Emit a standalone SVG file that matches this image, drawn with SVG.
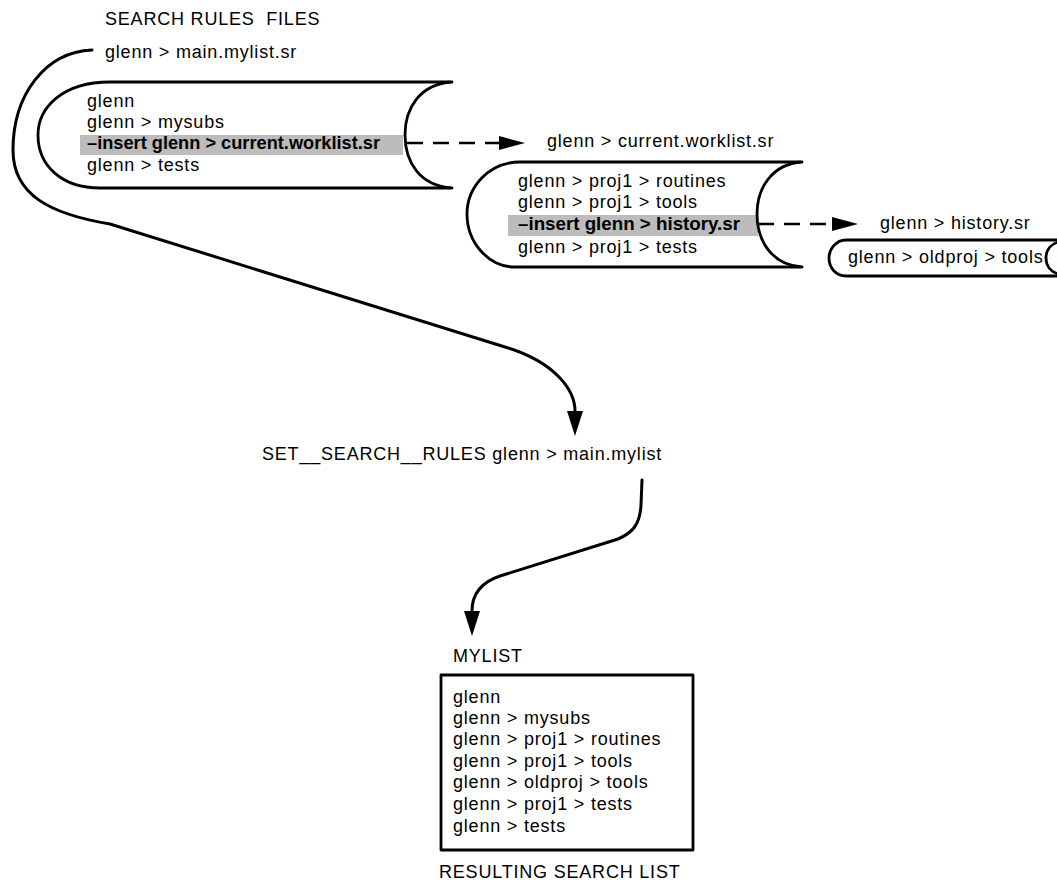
<svg xmlns="http://www.w3.org/2000/svg" width="1057" height="883" viewBox="0 0 1057 883">
<style>
text{font-family:"Liberation Sans",Arial,sans-serif;font-size:18px;letter-spacing:0.8px;fill:#000;white-space:pre}
.b{font-weight:bold;letter-spacing:0px}
.shape{fill:none;stroke:#000;stroke-width:2.8;stroke-linejoin:round;stroke-linecap:round}
.hl{fill:#bcbcbc}
.conn{fill:none;stroke:#000;stroke-width:3;stroke-linecap:round}
.dash{fill:none;stroke:#000;stroke-width:2.6;stroke-dasharray:16 10}
</style>
<defs>
<marker id="ahv" markerUnits="userSpaceOnUse" viewBox="0 0 25 16" markerWidth="25" markerHeight="16" refX="0" refY="8" orient="auto"><path d="M0,0 L25,8 L0,16 z" fill="#000"/></marker>
<marker id="ahh" markerUnits="userSpaceOnUse" viewBox="0 0 26 14" markerWidth="26" markerHeight="14" refX="0" refY="7" orient="auto"><path d="M0,0 L26,7 L0,14 z" fill="#000"/></marker>
</defs>
<rect width="1057" height="883" fill="#fff"/>

<text x="105" y="25" xml:space="preserve">SEARCH RULES  FILES</text>

<g id="mainfile">
<text x="105" y="58">glenn &gt; main.mylist.sr</text>
<rect class="hl" x="80" y="135" width="323" height="20"/>
<path class="shape" d="M450,82 L110,82 C62,82 38,108 38,135 C38,166 62,188 100,188 L450,188"/>
<path class="shape" d="M452,82 C420,84 405,108 405,135 C405,162 420,186 452,188"/>
<text x="87" y="107">glenn</text>
<text x="87" y="128">glenn &gt; mysubs</text>
<text class="b" x="87" y="149" textLength="293" lengthAdjust="spacingAndGlyphs">–insert glenn &gt; current.worklist.sr</text>
<text x="87" y="171">glenn &gt; tests</text>
</g>

<g id="worklist">
<text x="547" y="147">glenn &gt; current.worklist.sr</text>
<rect class="hl" x="508" y="215" width="250" height="21"/>
<path class="shape" d="M800,162 L520,162 C488,162 467,188 467,214 C467,242 488,267 515,267 L800,267"/>
<path class="shape" d="M802,162 C772,164 757,188 757,214 C757,241 772,265 802,267"/>
<text x="518" y="187">glenn &gt; proj1 &gt; routines</text>
<text x="518" y="208">glenn &gt; proj1 &gt; tools</text>
<text class="b" x="518" y="230" textLength="222" lengthAdjust="spacingAndGlyphs">–insert glenn &gt; history.sr</text>
<text x="518" y="253">glenn &gt; proj1 &gt; tests</text>
</g>

<g id="history">
<text x="880" y="229">glenn &gt; history.sr</text>
<path class="shape" d="M1060,240 L846,240 C836,240 829,249 829,258 C829,268 836,276 846,276 L1060,276"/>
<path class="shape" d="M1062,241 C1051,243 1046,250 1046,258 C1046,266 1051,273 1062,275"/>
<text x="848" y="263">glenn &gt; oldproj &gt; tools</text>
</g>

<g id="command">
<text x="262" y="460">SET__SEARCH__RULES glenn &gt; main.mylist</text>
</g>

<g id="mylist">
<text x="453" y="662">MYLIST</text>
<rect class="shape" x="441" y="675" width="252" height="175"/>
<text x="453" y="703">glenn</text>
<text x="453" y="724">glenn &gt; mysubs</text>
<text x="453" y="745">glenn &gt; proj1 &gt; routines</text>
<text x="453" y="767">glenn &gt; proj1 &gt; tools</text>
<text x="453" y="788">glenn &gt; oldproj &gt; tools</text>
<text x="453" y="810">glenn &gt; proj1 &gt; tests</text>
<text x="453" y="832">glenn &gt; tests</text>
<text x="439" y="878">RESULTING SEARCH LIST</text>
</g>

<g id="connectors">
<path class="dash" d="M407,143 L499,143" marker-end="url(#ahh)"/>
<path class="dash" d="M758,224 L832,224" marker-end="url(#ahh)"/>
<path class="conn" d="M92,50 C45,52 13,95 13,150 C13,195 50,214 110,224 L505,347 C555,362 575,390 575,411" marker-end="url(#ahv)"/>
<path class="conn" d="M642,480 L641,505 C640,525 632,533 618,539 L500,576 C482,582 472,594 472,611" marker-end="url(#ahv)"/>
</g>
</svg>
